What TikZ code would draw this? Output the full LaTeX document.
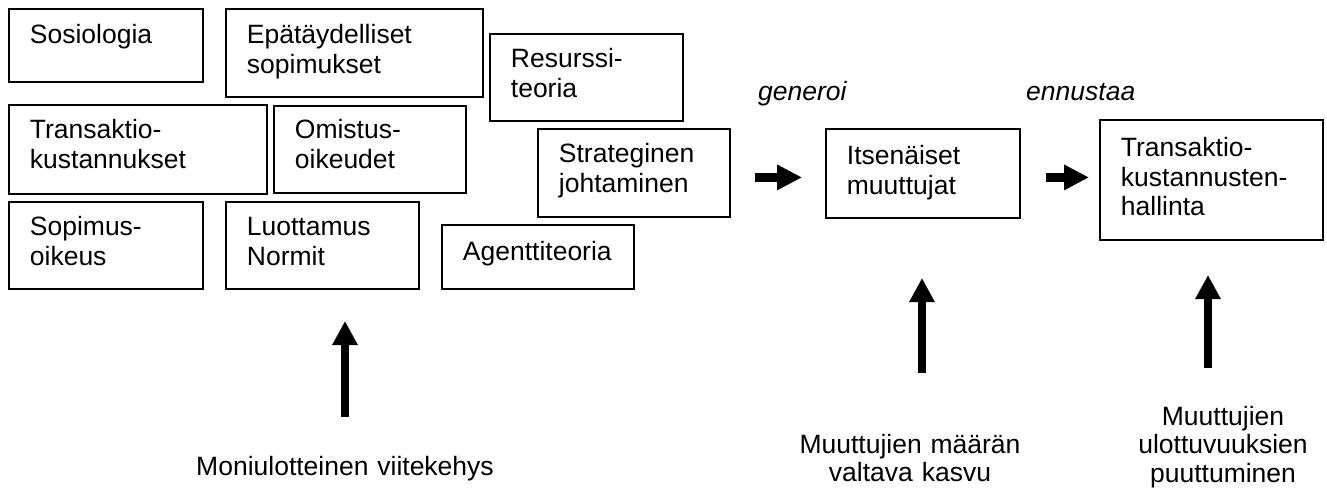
\documentclass[tikz,border=0pt]{standalone}
\usepackage{fontspec}
\setmainfont{Liberation Sans}
\usetikzlibrary{arrows.meta}
\begin{document}
\begin{tikzpicture}[x=1pt,y=-1pt,
  box/.style={draw, line width=1.8pt, anchor=north west, inner xsep=21pt, inner ysep=0pt,
    align=left, font=\fontsize{26.5}{29.5}\selectfont},
  lbl/.style={align=center, anchor=base, inner sep=0pt, text width=400pt,
    font=\fontsize{26.5}{28.5}\selectfont},
  verb/.style={anchor=base west, inner sep=0pt, font=\fontsize{26.5}{29}\selectfont\itshape},
  harr/.style={line width=9pt, -{Triangle[width=24pt,length=25pt]}},
  varr/.style={line width=8pt, -{Triangle[width=24pt,length=24pt]}}
]
\useasboundingbox (0,0) rectangle (1327,493);
% left group
\node[box, text width=152pt, text height=35pt, text depth=38pt] (sos) at (8,8) {Sosiologia};
\node[box, text width=215pt, text height=35pt, text depth=53pt] (epa) at (225,8) {Epätäydelliset\\sopimukset};
\node[box, text width=216pt, text height=34pt, text depth=55pt] (tra) at (8,104) {Transaktio-\\kustannukset};
\node[box, text width=150pt, text height=33pt, text depth=54pt] (omi) at (273,105) {Omistus-\\oikeudet};
\node[box, text width=152pt, text height=34pt, text depth=53pt] (sop) at (8,201) {Sopimus-\\oikeus};
\node[box, text width=151pt, text height=34pt, text depth=53pt] (luo) at (225,201) {Luottamus\\Normit};
\node[box, text width=150pt, text height=36pt, text depth=28pt] (age) at (441,224) {Agenttiteoria};
\node[box, text width=151pt, text height=34pt, text depth=53pt] (res) at (489,33) {Resurssi-\\teoria};
\node[box, text width=150pt, text height=34pt, text depth=54pt] (str) at (537,128) {Strateginen\\johtaminen};
% right group
\node[box, text width=152pt, text height=36pt, text depth=53pt] (its) at (825,128) {Itsenäiset\\muuttujat};
\node[box, text width=181pt, text height=37pt, text depth=83pt] (tkh) at (1099,119) {Transaktio-\\kustannusten-\\hallinta};
% verbs
\node[verb] (gen) at (758,100) {generoi};
\node[verb] (enn) at (1026,100) {ennustaa};
% horizontal arrows
\draw[harr] ([xshift=24pt,yshift=-4.5pt]str.east) -- ([xshift=-23pt,yshift=-4pt]its.west);
\draw[harr] ([xshift=25pt,yshift=-4pt]its.east) -- ([xshift=-10pt,yshift=2.5pt]tkh.west);
% bottom labels
\node[lbl] (mon) at (345,475) {Moniulotteinen viitekehys};
\node[lbl] (maa) at (910,453) {Muuttujien määrän\\valtava kasvu};
\node[lbl] (ulo) at (1223,425) {Muuttujien\\ulottuvuuksien\\puuttuminen};
% vertical arrows
\coordinate (v1a) at (345,417); \coordinate (v1b) at (345,321);
\coordinate (v2a) at (922,373); \coordinate (v2b) at (922,278);
\coordinate (v3a) at (1208,368); \coordinate (v3b) at (1208,275);
\draw[varr] (v1a) -- (v1b);
\draw[varr] (v2a) -- (v2b);
\draw[varr] (v3a) -- (v3b);
\end{tikzpicture}
\end{document}
